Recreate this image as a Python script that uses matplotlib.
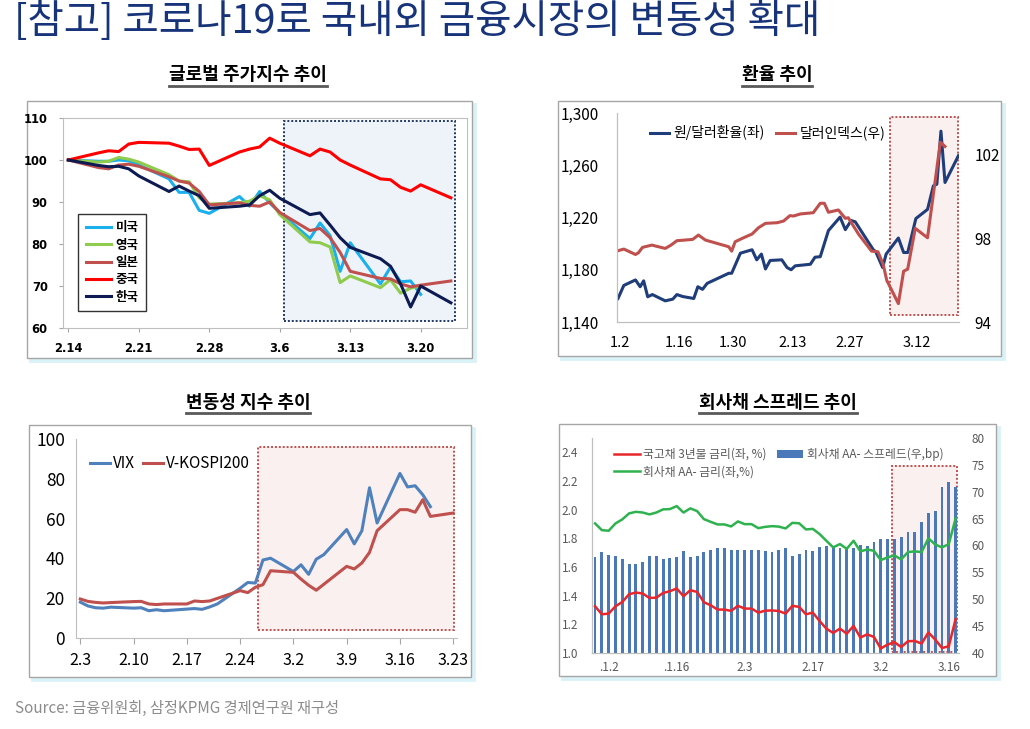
import numpy as np
import matplotlib
matplotlib.use('Agg')
import matplotlib.pyplot as plt
from matplotlib.patches import Rectangle
from matplotlib.lines import Line2D

plt.rcParams['font.family'] = ['Noto Sans CJK KR', 'DejaVu Sans']
plt.rcParams['axes.unicode_minus'] = False

# ---------------- data ----------------
# 1) global stock indices (2.14 = 100), x = calendar days since 2.14
stk_days = [0, 3, 4, 5, 6, 7, 10, 11, 12, 13, 14, 17, 18, 19, 20, 21, 24, 25, 26, 27, 28, 31, 32, 33, 34, 35, 38]
stk_us = [100, 99.7, 99.7, 100.0, 99.8, 98.8, 95.5, 92.3, 92.3, 88.0, 87.3, 91.3, 89.0, 92.5, 89.8, 87.5,
          81.3, 85.0, 82.0, 73.5, 80.3, 70.5, 74.5, 71.0, 71.2, 68.0]
stk_uk = [100, 99.5, 99.7, 100.6, 100.2, 99.5, 96.5, 95.0, 94.8, 91.0, 89.5, 89.8, 90.2, 91.5, 90.5, 87.0,
          80.5, 80.3, 79.3, 70.8, 72.4, 69.6, 71.5, 68.3, 69.5, 70.0]
stk_jp = [100, 98.2, 97.9, 98.8, 99.0, 98.5, 96.0, 95.0, 94.5, 92.5, 89.3, 89.8, 89.2, 89.0, 90.0, 87.5,
          83.2, 83.7, 81.5, 78.0, 73.5, 71.8, 71.7, 70.5, 69.8, 70.2, 71.2]
stk_cn = [100, 101.7, 102.2, 102.0, 103.8, 104.2, 104.0, 103.3, 102.5, 102.6, 98.7, 101.9, 102.6, 103.1, 105.2, 104.0,
          101.0, 102.6, 101.9, 100.0, 98.8, 95.5, 95.3, 93.5, 92.6, 94.1, 91.0]
stk_kr = [100, 98.7, 98.4, 98.5, 97.9, 96.2, 92.5, 93.8, 92.6, 91.5, 88.5, 89.0, 89.3, 91.5, 92.8, 90.9,
          87.0, 87.4, 84.5, 81.5, 79.2, 76.5, 74.7, 70.5, 65.0, 70.0, 66.0]
stk_names = ['미국', '영국', '일본', '중국', '한국']
stk_ticks = [0, 7, 14, 21, 28, 35]
stk_ticklabels = ['2.14', '2.21', '2.28', '3.6', '3.13', '3.20']
stk_zone = (21.4, 38.4, 61.6, 109.4)

# 2) exchange rate, x = trading-day index from 1.2
krw_t = [0, 1.0, 3.0, 3.8, 4.4, 5.1, 5.9, 8.1, 9.4, 10.1, 11.1, 13.0, 13.7, 14.5, 15.3, 19.0, 19.5, 21.0,
         23.0, 23.8, 24.6, 25.3, 26.1, 28.1, 29.0, 29.7, 30.4, 33.0, 33.8, 34.7, 36.1, 38.1, 39.0, 40.0,
         40.7, 43.8, 44.2, 45.4, 46.0, 48.1, 49.0, 49.7, 51.1, 53.1, 54.1, 54.7, 55.4, 56.1, 58.4]
krw_val = [1158, 1168, 1172.2, 1167, 1171.5, 1159.3, 1161, 1156.2, 1157.5, 1161, 1159.5, 1158, 1167, 1165,
           1169.6, 1177.3, 1177.3, 1192.7, 1195.3, 1187.6, 1192, 1180.6, 1187.1, 1187.6, 1181.7, 1180, 1183,
           1184.2, 1189.6, 1190, 1210, 1220.3, 1210.7, 1217.7, 1216.7, 1195.3, 1194, 1181.7, 1192, 1204.3,
           1193.2, 1193.2, 1219.2, 1226.2, 1244.2, 1245.5, 1286.1, 1246.8, 1267.3]
dxy_t = [0, 1.0, 3.0, 3.5, 4.2, 5.8, 8.1, 9.1, 10.1, 12.8, 13.8, 15.0, 19.0, 19.5, 20.1, 21.3, 23.0, 24.1,
         25.3, 27.3, 28.4, 29.5, 30.1, 31.3, 33.5, 34.7, 35.4, 36.1, 37.8, 39.0, 39.5, 41.3, 43.5, 44.6,
         45.5, 46.1, 48.1, 49.0, 49.7, 51.0, 53.1, 55.3, 56.1]
dxy_val = [97.41, 97.49, 97.23, 97.31, 97.57, 97.68, 97.52, 97.68, 97.89, 97.95, 98.16, 97.92, 97.6, 97.39,
           97.84, 98.0, 98.21, 98.51, 98.72, 98.75, 98.83, 99.09, 99.07, 99.17, 99.23, 99.68, 99.68, 99.25,
           99.36, 98.96, 98.99, 98.19, 97.39, 97.36, 96.75, 96.0, 94.88, 96.43, 96.53, 98.48, 98.03, 102.6, 102.4]
fx_ticks = [0.4, 10.4, 19.8, 29.9, 39.8, 51.3]
fx_ticklabels = ['1.2', '1.16', '1.30', '2.13', '2.27', '3.12']
fx_names = ['원/달러환율(좌)', '달러인덱스(우)']
fx_zone = (46.7, 58.4, 1145.7, 1296.9)

# 3) volatility index, x = calendar days since 2.3
vix_days = [0, 1, 2, 3, 4, 7, 8, 9, 10, 11, 15, 16, 17, 18, 21, 22, 23, 24, 25, 28, 29, 30, 31, 32,
            35, 36, 37, 38, 39, 42, 43, 44, 45, 46]
vix_val = [18.0, 16.1, 15.2, 15.0, 15.5, 15.0, 15.2, 13.7, 14.2, 13.7, 14.8, 14.4, 15.6, 17.1, 25.0, 27.9,
           27.6, 39.2, 40.1, 33.4, 36.8, 32.0, 39.6, 41.9, 54.5, 47.3, 53.9, 75.5, 57.8, 82.7, 75.9, 76.5,
           72.0, 66.0]
vks_days = [0, 1, 2, 3, 4, 7, 8, 9, 10, 11, 14, 15, 16, 17, 18, 21, 22, 23, 24, 25, 28, 29, 30, 31, 32,
            35, 36, 37, 38, 39, 42, 43, 44, 45, 46, 49]
vks_val = [19.6, 18.4, 17.9, 17.6, 17.8, 18.3, 18.4, 17.1, 16.8, 17.1, 17.1, 18.6, 18.3, 18.6, 19.9, 23.8,
           22.8, 25.5, 26.8, 33.8, 33.0, 29.6, 26.5, 24.0, 27.0, 36.0, 34.7, 37.7, 43.0, 53.9, 64.5, 64.5,
           63.2, 69.5, 61.1, 62.8]
vol_ticks = [0, 7, 14, 21, 28, 35, 42, 49]
vol_ticklabels = ['2.3', '2.10', '2.17', '2.24', '3.2', '3.9', '3.16', '3.23']
vol_names = ['VIX', 'V-KOSPI200']
vol_zone = (23.3, 49.1, 3.9, 96.0)

# 4) corporate bond spread, one value per trading day
spread_bp = [57.9, 58.7, 58.3, 58.0, 57.5, 56.6, 56.5, 57.0, 58.1, 58.0, 57.4, 57.6, 57.8, 59.0, 57.8, 58.1,
             58.8, 59.1, 59.5, 59.5, 59.2, 59.1, 59.2, 59.2, 59.2, 58.9, 58.8, 59.2, 59.6, 58.1, 58.4, 59.1,
             59.0, 59.8, 59.9, 59.9, 59.5, 59.6, 59.6, 60.1, 59.9, 60.7, 61.3, 61.3, 61.3, 61.6, 62.5, 62.5,
             64.4, 66.0, 66.5, 70.8, 71.8, 70.9]
corp_aa = [1.904, 1.857, 1.853, 1.904, 1.932, 1.974, 1.985, 1.980, 1.967, 1.980, 2.002, 2.004, 2.025, 1.980,
           2.009, 1.990, 1.934, 1.915, 1.897, 1.897, 1.883, 1.918, 1.899, 1.899, 1.871, 1.880, 1.885, 1.882,
           1.869, 1.908, 1.905, 1.862, 1.866, 1.830, 1.783, 1.737, 1.760, 1.727, 1.783, 1.709, 1.722, 1.713,
           1.648, 1.667, 1.681, 1.653, 1.704, 1.709, 1.704, 1.800, 1.757, 1.737, 1.760, 1.939]
ktb_3y = [1.326, 1.270, 1.275, 1.326, 1.356, 1.410, 1.422, 1.415, 1.384, 1.386, 1.419, 1.431, 1.450, 1.396,
          1.438, 1.426, 1.354, 1.333, 1.303, 1.303, 1.294, 1.329, 1.310, 1.310, 1.282, 1.295, 1.297, 1.293,
          1.275, 1.329, 1.322, 1.270, 1.282, 1.224, 1.170, 1.140, 1.170, 1.135, 1.189, 1.108, 1.130, 1.112,
          1.031, 1.059, 1.075, 1.042, 1.082, 1.084, 1.066, 1.143, 1.094, 1.035, 1.047, 1.236]
bond_ticks = [2, 12, 22, 32, 42, 52]
bond_ticklabels = ['.1.2', '.1.16', '2.3', '2.17', '3.2', '3.16']
bond_names = ['국고채 3년물 금리(좌, %)', '회사채 AA- 금리(좌,%)', '회사채 AA- 스프레드(우,bp)']
bond_zone = (43.6, 53.2, 40.2, 74.85)

# ---------------- figure ----------------
W, H = 1030, 729
fig = plt.figure(figsize=(W / 100, H / 100), dpi=100)


def fbox(x0, y0, x1, y1):
    return [x0 / W, 1 - y1 / H, (x1 - x0) / W, (y1 - y0) / H]


def panel_frame(x0, y0, x1, y1):
    fig.patches.append(Rectangle(((x0 + 3) / W, 1 - (y1 + 3) / H), (x1 - x0) / W, (y1 - y0) / H,
                                 transform=fig.transFigure, fc='#d9f2f7', ec='#d9f2f7', lw=2, zorder=-2))
    fig.patches.append(Rectangle((x0 / W, 1 - y1 / H), (x1 - x0) / W, (y1 - y0) / H,
                                 transform=fig.transFigure, fc='white', ec='#a6a6a6', lw=1, zorder=-1))


def zone(ax, z, ec, fc):
    ax.add_patch(Rectangle((z[0], z[2]), z[1] - z[0], z[3] - z[2], fc=fc, ec=ec, lw=1.4,
                           ls=(0, (1, 1)), zorder=0.5))


fig.text(14 / W, 1 - 22 / H, '[참고] 코로나19로 국내외 금융시장의 변동성 확대', fontsize=28.5,
         color='#17337a', ha='left', va='center')
fig.text(15 / W, 1 - 708 / H, 'Source: 금융위원회, 삼정KPMG 경제연구원 재구성', fontsize=11,
         color='#8c8c8c', ha='left', va='center')

sub_titles = []
for txt, cx, cy in [('글로벌 주가지수 추이', 248, 75), ('환율 추이', 777, 75),
                    ('변동성 지수 추이', 248, 402), ('회사채 스프레드 추이', 778, 402)]:
    sub_titles.append(fig.text(cx / W, 1 - cy / H, txt, fontsize=13, fontweight='bold',
                               ha='center', va='center'))

panel_frame(27, 101, 472, 358)
panel_frame(558, 101, 1001, 356)
panel_frame(29, 425, 471, 677)
panel_frame(559, 424, 996, 676)

# ---- panel 1 ----
ax1 = fig.add_axes(fbox(63, 118, 467, 328))
c1 = ['#1ab0ee', '#8fcb4c', '#c0504d', '#ff0000', '#0d1b52']
ser1 = [stk_us, stk_uk, stk_jp, stk_cn, stk_kr]
for vals, col, nm in zip(ser1, c1, stk_names):
    ax1.plot(stk_days[:len(vals)], vals, color=col, lw=2.2, label=nm, zorder=2)
zone(ax1, stk_zone, '#1f3864', '#eef3fa')
ax1.set_xlim(-0.53, 39.6)
ax1.set_ylim(60, 110)
ax1.set_xticks(stk_ticks)
ax1.set_xticklabels(stk_ticklabels)
ax1.set_yticks(np.arange(60, 111, 10))
for lb in ax1.get_xticklabels() + ax1.get_yticklabels():
    lb.set_fontfamily('DejaVu Sans')
    lb.set_fontweight('bold')
    lb.set_fontsize(8.3)
ax1.tick_params(length=3, color='#a6a6a6')
ax1.tick_params(axis='y', pad=8)
ax1.tick_params(axis='x', pad=7)
for s in ax1.spines.values():
    s.set_color('#bfbfbf')
leg1 = ax1.legend(loc='lower left', bbox_to_anchor=(0.022, 0.05), frameon=True, fancybox=False,
                  edgecolor='black', handlelength=2.0, labelspacing=0.35,
                  borderpad=0.6, handletextpad=0.4, prop={'weight': 'bold', 'size': 9})
leg1.get_frame().set_linewidth(1.0)

# ---- panel 2 ----
ax2 = fig.add_axes(fbox(617, 113, 959, 322))
ax2r = ax2.twinx()
l_krw, = ax2.plot(krw_t, krw_val, color='#1f3d7a', lw=2.2, zorder=2)
l_dxy, = ax2r.plot(dxy_t, dxy_val, color='#c0504d', lw=2.2, zorder=2)
zone(ax2, fx_zone, '#c0504d', '#fbf0f0')
ax2.set_xlim(-0.17, 58.5)
ax2.set_ylim(1140, 1300)
ax2r.set_ylim(94, 104)
ax2.set_yticks(np.arange(1140, 1301, 40))
ax2.set_yticklabels(['{:,}'.format(v) for v in np.arange(1140, 1301, 40)])
ax2r.set_yticks([94, 98, 102])
ax2.set_xticks(fx_ticks)
ax2.set_xticklabels(fx_ticklabels)
ax2.tick_params(labelsize=11, length=0, pad=13)
ax2.tick_params(axis='x', labelsize=10.5, pad=10)
ax2r.tick_params(labelsize=11, length=0, pad=11)
for a in (ax2, ax2r):
    for k in ['top', 'right']:
        a.spines[k].set_visible(False)
    a.spines['left'].set_color('#bfbfbf')
    a.spines['bottom'].set_color('#bfbfbf')
ax2r.legend([l_krw, l_dxy], fx_names, loc='center', bbox_to_anchor=(0.44, 0.905), ncol=2,
            frameon=False, fontsize=10, handlelength=1.4, columnspacing=0.8, handletextpad=0.3)

# ---- panel 3 ----
ax3 = fig.add_axes(fbox(76, 439, 457, 638))
ax3.plot(vix_days, vix_val, color='#4f81bd', lw=2.2, label=vol_names[0], zorder=2)
ax3.plot(vks_days, vks_val, color='#c0504d', lw=2.2, label=vol_names[1], zorder=2)
zone(ax3, vol_zone, '#c0504d', '#fbf0f0')
ax3.set_xlim(-0.57, 49.5)
ax3.set_ylim(0, 100)
ax3.set_yticks(np.arange(0, 101, 20))
ax3.set_xticks(vol_ticks)
ax3.set_xticklabels(vol_ticklabels)
ax3.tick_params(axis='y', labelsize=12.5, length=0, pad=8)
ax3.tick_params(axis='x', labelsize=11.5, length=4, color='#a6a6a6', pad=6)
for k in ['top', 'right']:
    ax3.spines[k].set_visible(False)
ax3.spines['left'].set_color('#bfbfbf')
ax3.spines['bottom'].set_color('#bfbfbf')
ax3.legend(loc='center', bbox_to_anchor=(0.247, 0.875), ncol=2, frameon=False, fontsize=11,
           handlelength=1.3, columnspacing=0.5, handletextpad=0.2)

# ---- panel 4 ----
axb = fig.add_axes(fbox(592, 438, 959, 653))
idx = np.arange(len(spread_bp))
bars = axb.bar(idx, spread_bp, width=0.42, color='#4a78b8', zorder=2)
zone(axb, bond_zone, '#c0504d', '#fbf0f0')
axb.set_ylim(40, 80)
axb.set_xlim(-0.45, 53.5)
axl = axb.twinx()
axb.yaxis.tick_right()
axb.yaxis.set_label_position('right')
axl.yaxis.tick_left()
axl.yaxis.set_label_position('left')
axb.set_yticks(np.arange(40, 81, 5))
l_ktb, = axl.plot(idx, ktb_3y, color='#e8262b', lw=1.8, zorder=3)
l_aa, = axl.plot(idx, corp_aa, color='#2eb24e', lw=1.8, zorder=3)
axl.set_ylim(1.0, 2.5)
axl.set_yticks(np.arange(1.0, 2.41, 0.2))
axl.set_yticklabels(['{:.1f}'.format(v) for v in np.arange(1.0, 2.41, 0.2)])
axb.set_xticks(bond_ticks)
axb.set_xticklabels(bond_ticklabels)
for a in (axb, axl):
    a.tick_params(labelsize=8.5, labelcolor='#595959', length=0)
    for k in ['top', 'right']:
        a.spines[k].set_visible(False)
    a.spines['left'].set_color('#bfbfbf')
    a.spines['bottom'].set_color('#bfbfbf')
axb.tick_params(axis='y', pad=9)
axl.tick_params(axis='y', pad=10)
axb.tick_params(axis='x', pad=6)
axl.legend([l_ktb, l_aa, bars], bond_names, loc='upper left', bbox_to_anchor=(0.03, 1.005), ncol=2,
           frameon=False, fontsize=8.5, labelcolor='#595959', handlelength=2.2, columnspacing=0.9,
           handletextpad=0.3, labelspacing=0.4)

# underline the panel titles
fig.canvas.draw()
rend = fig.canvas.get_renderer()
for t in sub_titles:
    bb = t.get_window_extent(rend).transformed(fig.transFigure.inverted())
    fig.add_artist(Line2D([bb.x0, bb.x1], [bb.y0 - 1.5 / H, bb.y0 - 1.5 / H], transform=fig.transFigure,
                          color='#595959', lw=2))

fig.savefig('out.png', dpi=100)
